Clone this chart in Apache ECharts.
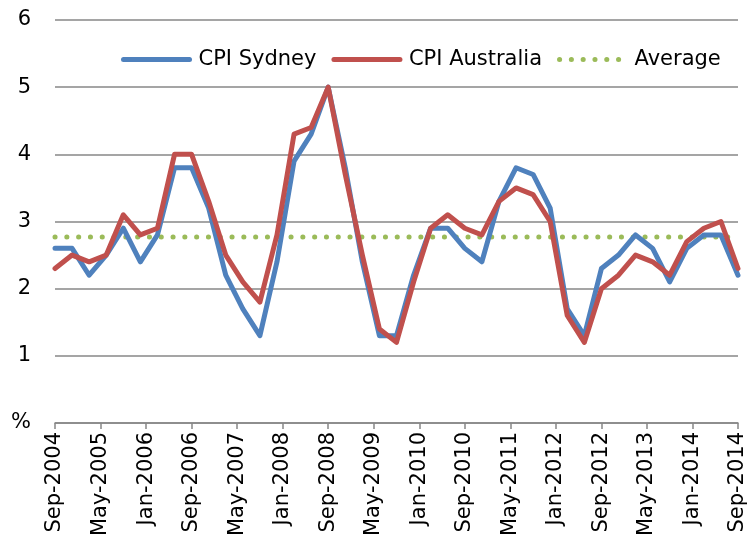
<!DOCTYPE html>
<html>
<head>
<meta charset="utf-8">
<title>CPI Sydney vs Australia</title>
<script src="https://cdn.jsdelivr.net/npm/echarts@6/dist/echarts.min.js"></script>
<style>
    html, body { margin: 0; padding: 0; background: #fff; }
    #chart { width: 755px; height: 552px; }
</style>
</head>
<body>
<div id="chart"></div>
<script>
// quarterly points, Sep-2004 .. Sep-2014
var quarters = ['Sep-2004', 'Dec-2004', 'Mar-2005', 'Jun-2005', 'Sep-2005', 'Dec-2005', 'Mar-2006', 'Jun-2006',
    'Sep-2006', 'Dec-2006', 'Mar-2007', 'Jun-2007', 'Sep-2007', 'Dec-2007', 'Mar-2008', 'Jun-2008',
    'Sep-2008', 'Dec-2008', 'Mar-2009', 'Jun-2009', 'Sep-2009', 'Dec-2009', 'Mar-2010', 'Jun-2010',
    'Sep-2010', 'Dec-2010', 'Mar-2011', 'Jun-2011', 'Sep-2011', 'Dec-2011', 'Mar-2012', 'Jun-2012',
    'Sep-2012', 'Dec-2012', 'Mar-2013', 'Jun-2013', 'Sep-2013', 'Dec-2013', 'Mar-2014', 'Jun-2014', 'Sep-2014'];

var cpiSydney = [2.6, 2.6, 2.2, 2.5, 2.9, 2.4, 2.8, 3.8, 3.8, 3.2, 2.2, 1.7, 1.3, 2.4, 3.9, 4.3,
    5.0, 3.8, 2.4, 1.3, 1.3, 2.2, 2.9, 2.9, 2.6, 2.4, 3.3, 3.8, 3.7, 3.2, 1.7, 1.3,
    2.3, 2.5, 2.8, 2.6, 2.1, 2.6, 2.8, 2.8, 2.2];

var cpiAustralia = [2.3, 2.5, 2.4, 2.5, 3.1, 2.8, 2.9, 4.0, 4.0, 3.3, 2.5, 2.1, 1.8, 2.8, 4.3, 4.4,
    5.0, 3.7, 2.5, 1.4, 1.2, 2.1, 2.9, 3.1, 2.9, 2.8, 3.3, 3.5, 3.4, 3.0, 1.6, 1.2,
    2.0, 2.2, 2.5, 2.4, 2.2, 2.7, 2.9, 3.0, 2.3];

var average = 2.77;

// x tick labels, one every 8 months
var tickLabels = ['Sep-2004', 'May-2005', 'Jan-2006', 'Sep-2006', 'May-2007', 'Jan-2008', 'Sep-2008', 'May-2009',
    'Jan-2010', 'Sep-2010', 'May-2011', 'Jan-2012', 'Sep-2012', 'May-2013', 'Jan-2014', 'Sep-2014'];

var yTicks = ['%', '1', '2', '3', '4', '5', '6'];

// month offset from Sep-2004 for each quarter
function toPoints(values) {
    return values.map(function (v, i) { return [i * 3, v]; });
}

var avgLine = quarters.map(function (q, i) { return [i * 3, average]; });

var font = 'DejaVu Sans';
var gridColor = '#878787';

var chart = echarts.init(document.getElementById('chart'), null, { renderer: 'canvas' });
var option = {
    animation: false,
    backgroundColor: '#ffffff',
    textStyle: { fontFamily: font },
    grid: { left: 55, right: 17, top: 20, bottom: 129, containLabel: false },
    legend: {
        left: 116,
        top: 44,
        itemWidth: 66,
        itemHeight: 14,
        itemGap: 15,
        itemStyle: { opacity: 0 },          // hide the circle symbol, keep the line
        lineStyle: { width: 'inherit' },
        textStyle: { fontFamily: font, fontSize: 21, color: '#000', padding: [0, 0, 0, 4] },
        data: ['CPI Sydney', 'CPI Australia', 'Average']
    },
    xAxis: {
        type: 'value',
        min: 0,
        max: 120,
        interval: 8,
        axisLine: { show: true, lineStyle: { color: gridColor, width: 1.5 } },
        axisTick: { show: true, length: 6, lineStyle: { color: gridColor, width: 1.5 } },
        splitLine: { show: false },
        axisLabel: {
            rotate: 90,
            margin: 9,
            fontFamily: font,
            fontSize: 21,
            color: '#000',
            formatter: function (v) { return tickLabels[v / 8] || ''; }
        }
    },
    yAxis: {
        type: 'value',
        min: 0,
        max: 6,
        interval: 1,
        axisLine: { show: false },
        axisTick: { show: false },
        splitLine: { show: true, lineStyle: { color: gridColor, width: 1.5 } },
        axisLabel: {
            margin: 24,
            fontFamily: font,
            fontSize: 21,
            color: '#000',
            formatter: function (v) { return yTicks[v]; }
        }
    },
    series: [
        {
            name: 'CPI Sydney',
            type: 'line',
            data: toPoints(cpiSydney),
            symbol: 'none',
            color: '#4F81BD',
            lineStyle: { color: '#4F81BD', width: 5, join: 'round', cap: 'round' }
        },
        {
            name: 'CPI Australia',
            type: 'line',
            data: toPoints(cpiAustralia),
            symbol: 'none',
            color: '#C0504D',
            lineStyle: { color: '#C0504D', width: 5, join: 'round', cap: 'round' }
        },
        {
            name: 'Average',
            type: 'line',
            data: avgLine,
            symbol: 'none',
            color: '#9BBB59',
            z: 1,
            lineStyle: { color: '#9BBB59', width: 5, type: [0.1, 11.7], cap: 'round' }
        }
    ]
};
chart.setOption(option);
</script>
</body>
</html>
